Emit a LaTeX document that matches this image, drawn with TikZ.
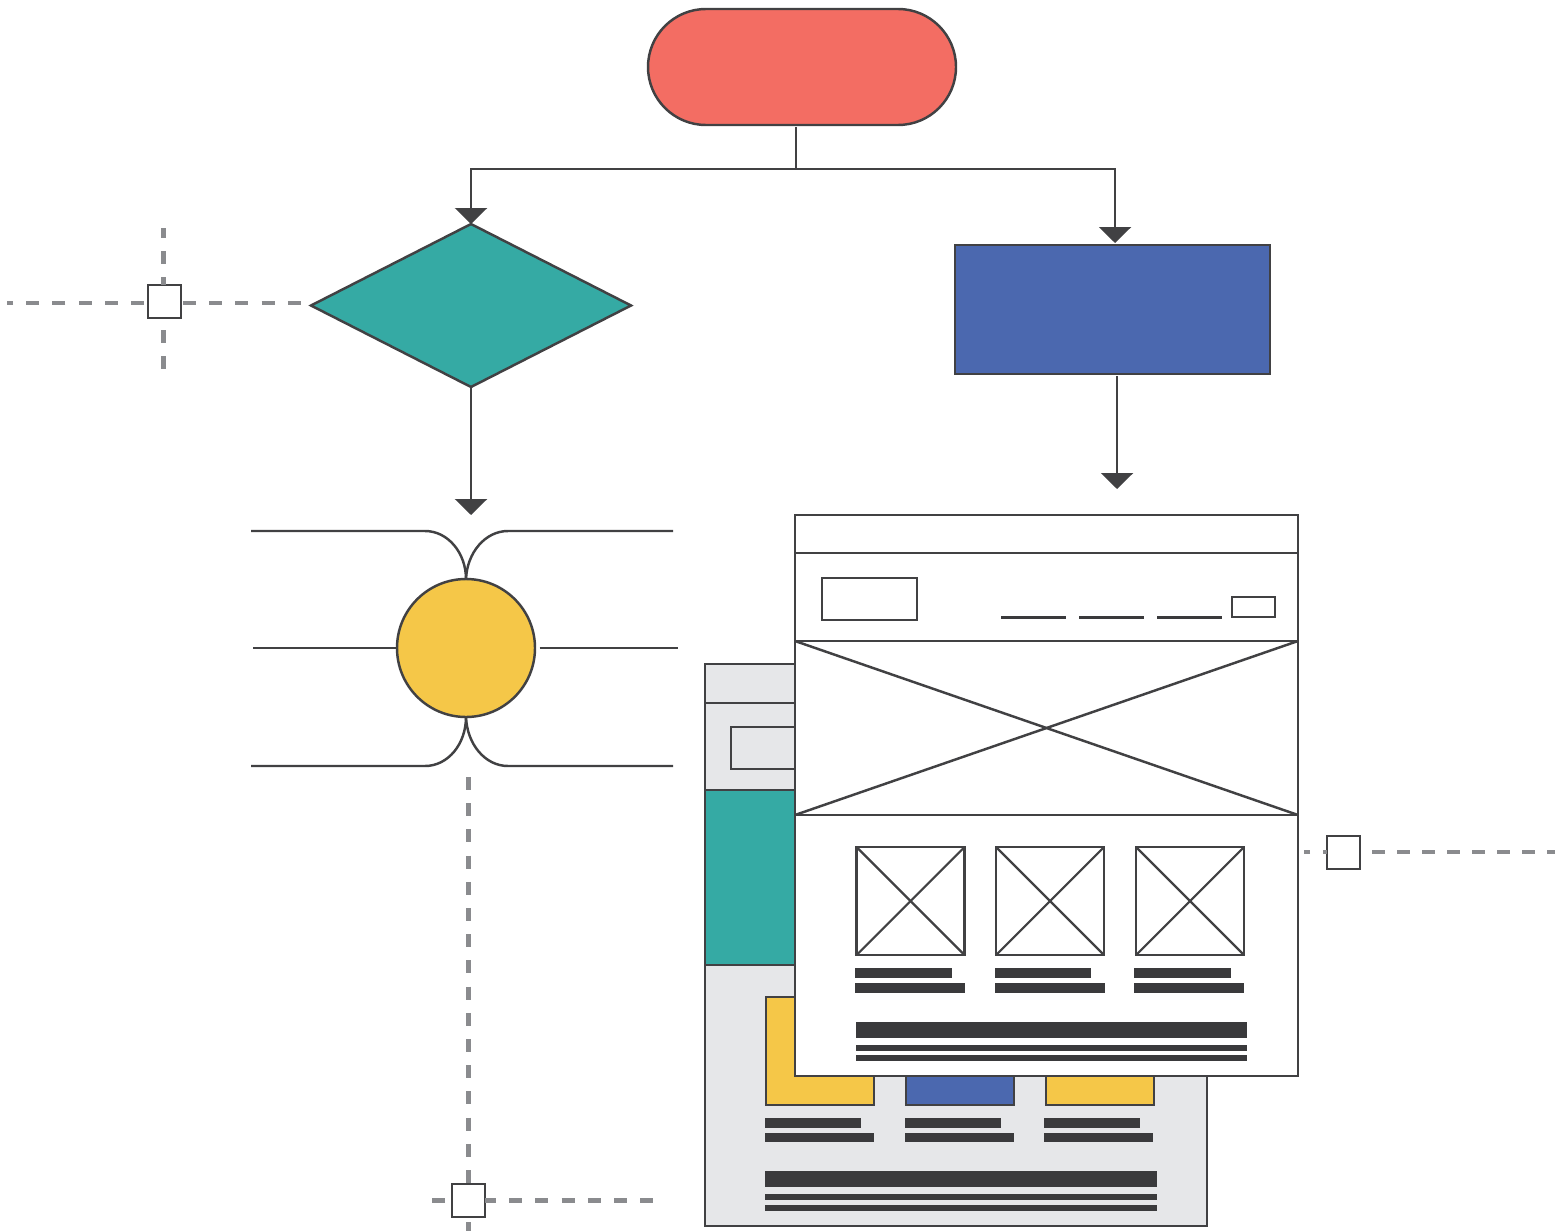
\documentclass[tikz,border=0pt]{standalone}
\usetikzlibrary{arrows.meta,shapes.geometric,shapes.misc}
\definecolor{ink}{HTML}{414143}
\definecolor{bar}{HTML}{3A3A3C}
\definecolor{dashgrey}{HTML}{8A8B8E}
\definecolor{redfill}{HTML}{F36D63}
\definecolor{tealfill}{HTML}{35AAA4}
\definecolor{bluefill}{HTML}{4B68AF}
\definecolor{yellowfill}{HTML}{F5C748}
\definecolor{pagefill}{HTML}{E6E7E9}
\tikzset{
  shapeline/.style={draw=ink,line width=1.85pt,inner sep=0pt,outer sep=0pt},
  whitebox/.style={shapeline,fill=white},
  greybox/.style={shapeline,fill=pagefill},
  openbox/.style={shapeline},
  barbox/.style={fill=bar,draw=none,inner sep=0pt,outer sep=0pt},
  link/.style={draw=ink,line width=1.85pt},
  thin link/.style={draw=ink,line width=1.6pt},
  arrowed/.style={link,-{Triangle[width=24pt,length=12pt]}},
  dashline/.style={draw=dashgrey,line width=3.5pt,dash pattern=on 9.75pt off 9.9pt},
}
% [style]{name}{x1}{y1}{x2}{y2}
\newcommand{\bx}[6][whitebox]{%
  \node[#1,minimum width={(#5-#3)*0.75pt},minimum height={(#6-#4)*0.75pt}] (#2) at ({(#3+#5)/2},{(#4+#6)/2}) {};}
\begin{document}
\begin{tikzpicture}[x=0.75pt,y=-0.75pt]
\useasboundingbox (0,0) rectangle (1555,1231);
% main flow shapes
\node[shapeline,fill=redfill,rounded rectangle,minimum width={308*0.75pt},minimum height={116*0.75pt}] (pill) at (802,67) {};
\node[shapeline,fill=tealfill,diamond,aspect=1.96,minimum width={320*0.75pt},minimum height={163*0.75pt}] (dec) at (471,305.5) {};
\bx[shapeline,fill=bluefill]{proc}{955}{245}{1270}{374}
\node[shapeline,fill=yellowfill,circle,minimum size={138*0.75pt}] (hub) at (466,648) {};
% flow connectors
\coordinate (split) at (796,169);
\coordinate (procin) at (1115,243);
\coordinate (pageout) at (1117,489);
\coordinate (hubin) at (471,515);
\draw[link,shorten <=1.5pt] (split |- pill.south) -- (split);
\draw[arrowed] (split) -| (dec.north);
\draw[arrowed] (split) -| (procin);
\draw[arrowed] (dec.south) -- (hubin);
\draw[arrowed,shorten <=1.5pt] (pageout |- proc.south) -- (pageout);
% hub lines
\coordinate (tl) at (251,531);\coordinate (tr) at (673,531);
\coordinate (ml) at (253,648);\coordinate (mr) at (678,648);
\coordinate (bl) at (251,766);\coordinate (br) at (673,766);
\draw[link] (hub.north) .. controls (466,553) and (448,531) .. (425,531) -- (tl);
\draw[link] (hub.north) .. controls (467,553) and (485,531) .. (508,531) -- (tr);
\draw[link] (hub.west) -- (ml);
\draw[link,shorten <=3.5pt] (hub.east) -- (mr);
\draw[link] (hub.south) .. controls (466,744) and (448,766) .. (425,766) -- (bl);
\draw[link] (hub.south) .. controls (467,744) and (485,766) .. (508,766) -- (br);
% dashed guides
\bx{hA}{148}{285}{181}{318}
\bx{hB}{452}{1184}{485}{1217}
\bx{hC}{1327}{836}{1360}{869}
\coordinate (a1) at (7,303);\coordinate (a2) at (302,303);
\coordinate (a3) at (163.5,228);\coordinate (a4) at (163.5,370);
\coordinate (b1) at (468.5,777);\coordinate (b2) at (468.5,1231);
\coordinate (b3) at (432,1200.5);\coordinate (b4) at (655,1200.5);
\coordinate (c1) at (1302,852);\coordinate (c2) at (1555,852);
\draw[dashline,shorten <=3pt] (hA.west |- a1) -- (a1);
\draw[dashline,shorten <=1.5pt] (hA.east |- a2) -- (a2);
\draw[dashline,dash phase=2.25pt] (a3) -- (a3 |- hA.north);
\draw[dashline,shorten <=9pt] (a4 |- hA.south) -- (a4);
\draw[dashline] (b1) -- (b1 |- hB.north);
\draw[dashline,shorten <=3.75pt] (b2 |- hB.south) -- (b2);
\draw[dashline,shorten <=5.25pt] (b3 -| hB.west) -- (b3);
\draw[dashline,dash phase=1.5pt] (b4 -| hB.east) -- (b4);
\draw[dashline,dash pattern=on 3pt off 9.75pt on 4.5pt off 10pt] (c1 -| hC.west) -- (c1);
\draw[dashline,dash pattern=on 9.5pt off 9.3pt,shorten <=9pt] (c2 -| hC.east) -- (c2);
% back page
\bx[greybox]{back}{705}{664}{1207}{1226}
\draw[link] (back.west |- 705,703) -- (795,703);
\bx[greybox]{backlogo}{731}{727}{810}{769}
\bx[shapeline,fill=tealfill]{backhero}{705}{790}{810}{965}
\bx[shapeline,fill=yellowfill]{by1}{766}{997}{874}{1105}
\bx[shapeline,fill=bluefill]{by2}{906}{997}{1014}{1105}
\bx[shapeline,fill=yellowfill]{by3}{1046}{997}{1154}{1105}
\bx[barbox]{bb1}{765}{1118}{861}{1128}
\bx[barbox]{bb2}{765}{1133}{874}{1142}
\bx[barbox]{bb3}{905}{1118}{1001}{1128}
\bx[barbox]{bb4}{905}{1133}{1014}{1142}
\bx[barbox]{bb5}{1044}{1118}{1140}{1128}
\bx[barbox]{bb6}{1044}{1133}{1153}{1142}
\bx[barbox]{bb7}{765}{1171}{1157}{1187}
\bx[barbox]{bb8}{765}{1194}{1157}{1200}
\bx[barbox]{bb9}{765}{1205}{1157}{1211}
% front page
\bx{front}{795}{515}{1298}{1076}
\bx{fhead}{795}{515}{1298}{553}
\bx[openbox]{fhero}{795}{641}{1298}{815}
\draw[link] (fhero.north west) -- (fhero.south east);
\draw[link] (fhero.south west) -- (fhero.north east);
\bx[openbox]{flogo}{822}{578}{917}{620}
\bx[openbox]{fbtn}{1232}{597}{1275}{617}
\bx[barbox]{fm1}{1001}{616.4}{1066}{618.6}
\bx[barbox]{fm2}{1079}{616.4}{1144}{618.6}
\bx[barbox]{fm3}{1157}{616.4}{1222}{618.6}
\bx[openbox]{ft1}{856.5}{847}{964.5}{955}
\bx[openbox]{ft2}{996}{847}{1104}{955}
\bx[openbox]{ft3}{1136}{847}{1244}{955}
\foreach \t in {ft1,ft2,ft3}{
  \draw[thin link] (\t.north west) -- (\t.south east);
  \draw[thin link] (\t.south west) -- (\t.north east);
}
\bx[barbox]{fb1}{855}{968}{952}{978}
\bx[barbox]{fb2}{855}{983}{965}{993}
\bx[barbox]{fb3}{995}{968}{1091}{978}
\bx[barbox]{fb4}{995}{983}{1105}{993}
\bx[barbox]{fb5}{1134}{968}{1231}{978}
\bx[barbox]{fb6}{1134}{983}{1244}{993}
\bx[barbox]{fb7}{856}{1022}{1247}{1038}
\bx[barbox]{fb8}{856}{1045}{1247}{1051}
\bx[barbox]{fb9}{856}{1055}{1247}{1061}
\end{tikzpicture}
\end{document}
